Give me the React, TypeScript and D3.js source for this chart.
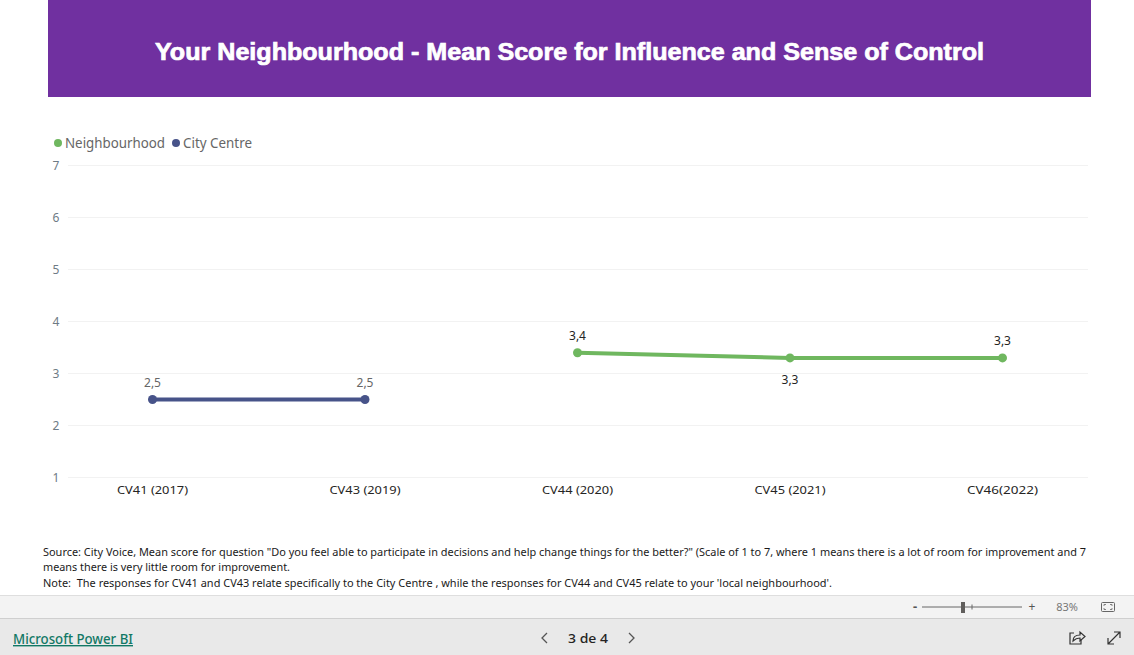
import React from "react";
import * as d3 from "d3";

const categories = ["CV41 (2017)", "CV43 (2019)", "CV44 (2020)", "CV45 (2021)", "CV46(2022)"];
const cityCentre = [
  { cat: "CV41 (2017)", value: 2.5 },
  { cat: "CV43 (2019)", value: 2.5 },
];
const neighbourhood = [
  { cat: "CV44 (2020)", value: 3.4 },
  { cat: "CV45 (2021)", value: 3.3 },
  { cat: "CV46(2022)", value: 3.3 },
];
const yTicks = [1, 2, 3, 4, 5, 6, 7];
const labelOffsets: Record<string, number> = { "CV45 (2021)": 26 };

const GREEN = "#6FB75F";
const NAVY = "#475389";
const FONT = "'Noto Sans', 'Open Sans', sans-serif";
const W = 1134;
const H = 655;

const fmt = (v: number) => v.toFixed(1).replace(".", ",");

export default function App() {
  const x = d3.scalePoint<string>().domain(categories).range([152.5, 1002.5]);
  const y = d3.scaleLinear().domain([1, 7]).range([477.5, 165.5]);
  const line = d3
    .line<{ cat: string; value: number }>()
    .x((d) => x(d.cat)!)
    .y((d) => y(d.value));

  const series = [
    { name: "City Centre", color: NAVY, data: cityCentre, labelColor: "#666666" },
    { name: "Neighbourhood", color: GREEN, data: neighbourhood, labelColor: "#252423" },
  ];

  return (
    <svg
      width={W}
      height={H}
      viewBox={`0 0 ${W} ${H}`}
      style={{ position: "absolute", left: 0, top: 0, display: "block", background: "#fff" }}
      fontFamily={FONT}
    >
      {/* Title banner */}
      <rect x={48} y={0} width={1043} height={97} fill="#7030A0" />
      <text
        x={569.5}
        y={60}
        textAnchor="middle"
        fill="#fff"
        stroke="#fff"
        strokeWidth={0.7}
        fontFamily="'Liberation Sans', Arial, sans-serif"
        fontWeight={700}
        fontSize={23}
        textLength={829}
        lengthAdjust="spacingAndGlyphs"
      >
        Your Neighbourhood - Mean Score for Influence and Sense of Control
      </text>

      {/* Legend */}
      <circle cx={58} cy={143} r={4} fill={GREEN} />
      <text x={65} y={148} fontSize={14} fill="#666666" textLength={100} lengthAdjust="spacingAndGlyphs">
        Neighbourhood
      </text>
      <circle cx={176} cy={143} r={4} fill={NAVY} />
      <text x={183} y={148} fontSize={14} fill="#666666" textLength={69} lengthAdjust="spacingAndGlyphs">
        City Centre
      </text>

      {/* Y axis */}
      {yTicks.map((t) => (
        <g key={t}>
          <line x1={68} x2={1088} y1={y(t)} y2={y(t)} stroke="#F2F2F2" strokeWidth={1} />
          <text x={56} y={y(t) + 4.5} textAnchor="middle" fontSize={12} fill="#6E7B85">
            {t}
          </text>
        </g>
      ))}

      {/* X axis */}
      {categories.map((c) => (
        <text key={c} x={x(c)} y={494} textAnchor="middle" fontSize={11.5} fill="#252423" textLength={71} lengthAdjust="spacingAndGlyphs">
          {c}
        </text>
      ))}

      {/* Series */}
      {series.map((s) => (
        <g key={s.name}>
          <path d={line(s.data)!} fill="none" stroke={s.color} strokeWidth={4} strokeLinejoin="round" />
          {s.data.map((d) => (
            <g key={d.cat}>
              <circle cx={x(d.cat)} cy={y(d.value)} r={4.5} fill={s.color} />
              <text
                x={x(d.cat)}
                y={y(d.value) + (labelOffsets[d.cat] ?? -13)}
                textAnchor="middle"
                fontSize={12}
                fill={s.labelColor}
              >
                {fmt(d.value)}
              </text>
            </g>
          ))}
        </g>
      ))}

      {/* Notes */}
      <g fontSize={11} fill="#1a1a1a">
        <text x={43} y={556} textLength={1043} lengthAdjust="spacingAndGlyphs">
          Source: City Voice, Mean score for question "Do you feel able to participate in decisions and help change things for the better?" (Scale of 1 to 7, where 1 means there is a lot of room for improvement and 7
        </text>
        <text x={43} y={571} textLength={247} lengthAdjust="spacingAndGlyphs">
          means there is very little room for improvement.
        </text>
        <text x={43} y={587} textLength={789} lengthAdjust="spacingAndGlyphs" xmlSpace="preserve">
          Note:  The responses for CV41 and CV43 relate specifically to the City Centre , while the responses for CV44 and CV45 relate to your 'local neighbourhood'.
        </text>
      </g>

      {/* Power BI footer */}
      <rect x={0} y={595} width={W} height={23} fill="#F3F3F3" />
      <line x1={0} x2={W} y1={595.5} y2={595.5} stroke="#DEDEDE" />
      <rect x={0} y={618} width={W} height={37} fill="#E9E9E9" />
      <line x1={0} x2={W} y1={618.5} y2={618.5} stroke="#CFCFCF" />

      {/* Zoom slider */}
      <text x={915} y={611} textAnchor="middle" fontSize={13} fontWeight={700} fill="#555">-</text>
      <line x1={922} x2={1022} y1={607} y2={607} stroke="#666" />
      <rect x={961} y={602} width={4} height={11} fill="#605E5C" />
      <line x1={972} x2={972} y1={604.5} y2={609.5} stroke="#666" />
      <text x={1032} y={611} textAnchor="middle" fontSize={12} fill="#555">+</text>
      <text x={1067} y={611} textAnchor="middle" fontSize={11} fill="#777">83%</text>
      <rect x={1101.5} y={602.5} width={13} height={9} rx={1} fill="none" stroke="#666" />
      <path d="M1104 606v-1.5h2M1112 606v-1.5h-2M1104 608v1.5h2M1112 608v1.5h-2" fill="none" stroke="#666" strokeWidth={0.8} />

      {/* Footer link and pager */}
      <text x={13} y={644} fontSize={14} fontWeight={500} fill="#117865" textDecoration="underline" textLength={120} lengthAdjust="spacingAndGlyphs">
        Microsoft Power BI
      </text>
      <path d="M547 633l-5 5 5 5" fill="none" stroke="#555" strokeWidth={1.3} />
      <text x={588} y={643} textAnchor="middle" fontSize={13} fontWeight={500} fill="#252423" textLength={40} lengthAdjust="spacingAndGlyphs">
        3 de 4
      </text>
      <path d="M629 633l5 5-5 5" fill="none" stroke="#555" strokeWidth={1.3} />

      {/* Share and expand icons */}
      <path d="M1074 633h-4v11h11v-4" fill="none" stroke="#333" strokeWidth={1.2} />
      <path d="M1073 641c0-4 3-6 7-6v-3l5 4.5-5 4.5v-3c-3 0-5 1-7 3z" fill="none" stroke="#333" strokeWidth={1.2} />
      <path d="M1108 644l12-12M1114 632h6v6M1108 638v6h6" fill="none" stroke="#333" strokeWidth={1.2} />
    </svg>
  );
}
